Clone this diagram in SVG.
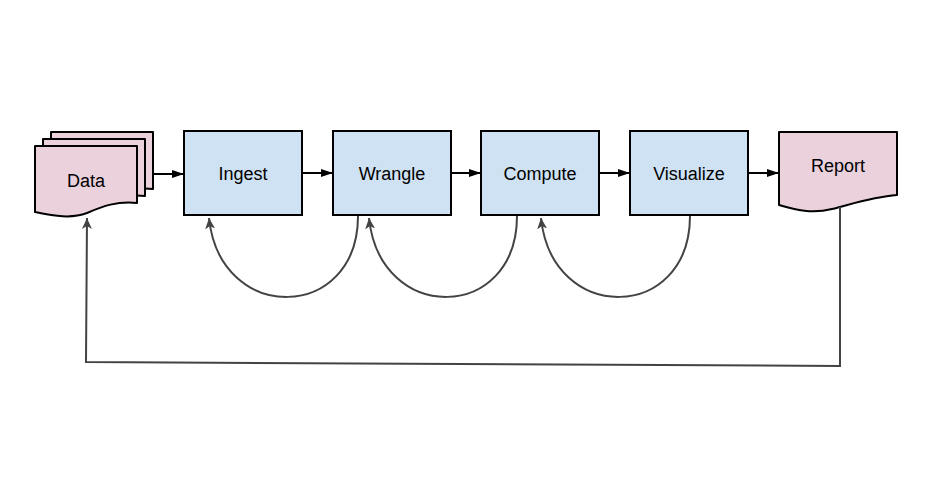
<svg xmlns="http://www.w3.org/2000/svg" width="940" height="502" viewBox="0 0 940 502">
<style>
.box{fill:#cfe2f3;stroke:#000;stroke-width:2}
.doc{fill:#ead1dc;stroke:#000;stroke-width:2;stroke-linejoin:round}
.lbl{font-family:"Liberation Sans",Arial,sans-serif;font-size:18px;fill:#000;text-anchor:middle}
.fwd{fill:none;stroke:#000;stroke-width:2}
.back{fill:none;stroke:#434343;stroke-width:2}
</style>
<defs>
<marker id="solid" markerUnits="userSpaceOnUse" markerWidth="12" markerHeight="10" refX="12" refY="5" orient="auto">
<path d="M0,1 L12,5 L0,9 Z" fill="#000"/>
</marker>
<marker id="open" markerUnits="userSpaceOnUse" markerWidth="12" markerHeight="12" refX="11" refY="6" orient="auto">
<path d="M0,1 L11,6 L0,11 L3,6 Z" fill="#434343"/>
</marker>
<path id="docshape" d="M0,0 H102 V57 C82,55 68,60 52,67 C36,73 20,70 0,66 Z"/>
</defs>
<rect width="940" height="502" fill="#fff"/>
<g id="data">
<use href="#docshape" class="doc" transform="translate(51,132)"/>
<use href="#docshape" class="doc" transform="translate(43,139)"/>
<use href="#docshape" class="doc" transform="translate(35,146)"/>
<text class="lbl" x="86" y="187">Data</text>
</g>
<g id="ingest">
<rect class="box" x="184" y="131" width="118" height="84"/>
<text class="lbl" x="243" y="180">Ingest</text>
</g>
<g id="wrangle">
<rect class="box" x="333" y="131" width="118" height="84"/>
<text class="lbl" x="392" y="180">Wrangle</text>
</g>
<g id="compute">
<rect class="box" x="481" y="131" width="118" height="84"/>
<text class="lbl" x="540" y="180">Compute</text>
</g>
<g id="visualize">
<rect class="box" x="630" y="131" width="118" height="84"/>
<text class="lbl" x="689" y="180">Visualize</text>
</g>
<g id="report">
<path class="doc" d="M779,132 H897 V195 C872,197 852,204 832,209 C812,214 796,210 779,205 Z"/>
<text class="lbl" x="838" y="172">Report</text>
</g>
<g id="connectors">
<line class="fwd" x1="154" y1="174" x2="184" y2="174" marker-end="url(#solid)"/>
<line class="fwd" x1="302" y1="173" x2="333" y2="173" marker-end="url(#solid)"/>
<line class="fwd" x1="451" y1="173" x2="481" y2="173" marker-end="url(#solid)"/>
<line class="fwd" x1="599" y1="173" x2="630" y2="173" marker-end="url(#solid)"/>
<line class="fwd" x1="748" y1="173" x2="779" y2="173" marker-end="url(#solid)"/>
<path class="back" d="M358,216 C358,322 220,325 209,218" marker-end="url(#open)"/>
<path class="back" d="M517,216 C517,322 380,325 369,218" marker-end="url(#open)"/>
<path class="back" d="M690,216 C690,322 552,325 541,218" marker-end="url(#open)"/>
<path class="back" d="M840,207 L840,366 L86,362 L87,218" marker-end="url(#open)"/>
</g>
</svg>
